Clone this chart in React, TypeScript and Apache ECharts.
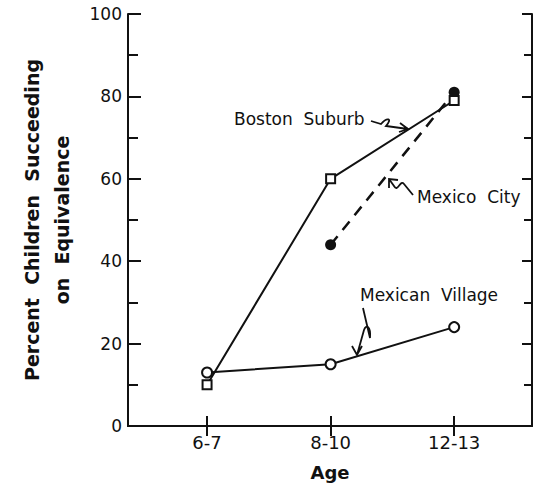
import React, { useEffect, useRef } from "react";
import * as echarts from "echarts";

const categories = ["6-7", "8-10", "12-13"];
const categoryPositions = [1, 2, 3];
const bostonSuburb = [10, 60, 79];
const mexicanVillage = [13, 15, 24];
const mexicoCityPositions = [2, 3];
const mexicoCity = [44, 81];
const yTicks = [0, 20, 40, 60, 80, 100];

const FONT = "DejaVu Sans";
const INK = "#111";

const arrowPaths: Record<string, string> = {
  arrowBoston:
    "M371,121 L381,124 C387,117 393,118 386,126 L408,129 M400,123 L408,129 L399,132",
  arrowMexicoCity:
    "M413,195 L404,184 C400,179 398,193 394,186 L389,179 M389,188 L389,179 L398,180",
  arrowVillage:
    "M363,308 L370,338 C371,326 366,324 364,330 L357,355 M352,346 L357,355 L362,346",
};

let registered = false;
function registerArrows() {
  if (registered) return;
  registered = true;
  Object.keys(arrowPaths).forEach((k) => {
    echarts.graphic.registerShape(k, echarts.graphic.extendPath(arrowPaths[k], {}));
  });
}

export default function App() {
  const ref = useRef<HTMLDivElement>(null);
  useEffect(() => {
    if (!ref.current) return;
    document.body.style.margin = "0";
    registerArrows();
    const chart = echarts.init(ref.current, null, { renderer: "svg" });
    const zip = (xs: number[], ys: number[]) => xs.map((x, i) => [x, ys[i]]);
    const axisLine = { show: true, lineStyle: { color: INK, width: 2 } };
    chart.setOption({
      animation: false,
      backgroundColor: "#fff",
      grid: { left: 128, right: 4, top: 14, bottom: 62, containLabel: false },
      xAxis: [
        {
          type: "value",
          position: "bottom",
          min: 0.36,
          max: 3.63,
          axisLine,
          splitLine: { show: false },
          axisTick: {
            show: true,
            inside: true,
            length: 10,
            customValues: categoryPositions,
            lineStyle: { color: INK, width: 2 },
          },
          axisLabel: {
            customValues: categoryPositions,
            formatter: (v: number) => categories[Math.round(v) - 1] ?? "",
            fontFamily: FONT,
            fontSize: 18,
            color: INK,
            margin: 7,
          },
          name: "Age",
          nameLocation: "middle",
          nameGap: 37,
          nameTextStyle: { fontFamily: FONT, fontSize: 18, fontWeight: "bold", color: INK },
        },
        {
          type: "value",
          position: "top",
          min: 0.36,
          max: 3.63,
          axisLine,
          splitLine: { show: false },
          axisTick: {
            show: true,
            inside: true,
            length: 10,
            customValues: categoryPositions,
            lineStyle: { color: INK, width: 2 },
          },
          axisLabel: { show: false },
        },
      ],
      yAxis: [
        {
          type: "value",
          position: "left",
          min: 0,
          max: 100,
          interval: 20,
          axisLine,
          splitLine: { show: false },
          axisTick: { show: true, inside: true, length: 13, lineStyle: { color: INK, width: 2 } },
          minorTick: { show: true, splitNumber: 2, length: 10, lineStyle: { color: INK, width: 2 } },
          axisLabel: {
            customValues: yTicks,
            fontFamily: FONT,
            fontSize: 17,
            color: INK,
            margin: 6,
          },
          name: "Percent  Children  Succeeding\non  Equivalence",
          nameLocation: "middle",
          nameRotate: 90,
          nameGap: 51,
          nameTextStyle: {
            fontFamily: FONT,
            fontSize: 19,
            fontWeight: "bold",
            color: INK,
            lineHeight: 30,
          },
        },
        {
          type: "value",
          position: "right",
          min: 0,
          max: 100,
          interval: 20,
          axisLine,
          splitLine: { show: false },
          axisTick: { show: true, inside: true, length: 10, lineStyle: { color: INK, width: 2 } },
          minorTick: { show: true, splitNumber: 2, length: 8, lineStyle: { color: INK, width: 2 } },
          axisLabel: { show: false },
        },
      ],
      series: [
        {
          name: "Mexico City",
          type: "line",
          data: zip(mexicoCityPositions, mexicoCity),
          symbol: "circle",
          symbolSize: 11,
          itemStyle: { color: INK },
          lineStyle: { color: INK, width: 2.5, type: [11, 8] },
          z: 2,
        },
        {
          name: "Boston Suburb",
          type: "line",
          data: zip(categoryPositions, bostonSuburb),
          symbol: "rect",
          symbolSize: 9,
          itemStyle: { color: "#fff", borderColor: INK, borderWidth: 2 },
          lineStyle: { color: INK, width: 2 },
          z: 3,
        },
        {
          name: "Mexican Village",
          type: "line",
          data: zip(categoryPositions, mexicanVillage),
          symbol: "circle",
          symbolSize: 10,
          itemStyle: { color: "#fff", borderColor: INK, borderWidth: 2 },
          lineStyle: { color: INK, width: 2 },
          z: 3,
        },
      ],
      graphic: [
        {
          type: "text",
          left: 234,
          top: 110,
          style: { text: "Boston  Suburb", font: `17px "${FONT}"`, fill: INK },
        },
        {
          type: "text",
          left: 417,
          top: 188,
          style: { text: "Mexico  City", font: `17px "${FONT}"`, fill: INK },
        },
        {
          type: "text",
          left: 360,
          top: 286,
          style: { text: "Mexican  Village", font: `17px "${FONT}"`, fill: INK },
        },
        ...Object.keys(arrowPaths).map((k) => ({
          type: k,
          x: 0,
          y: 0,
          style: { stroke: INK, fill: "none", lineWidth: 1.8 },
        })),
      ],
    });
    return () => chart.dispose();
  }, []);
  return <div ref={ref} style={{ width: 536, height: 488 }} />;
}
